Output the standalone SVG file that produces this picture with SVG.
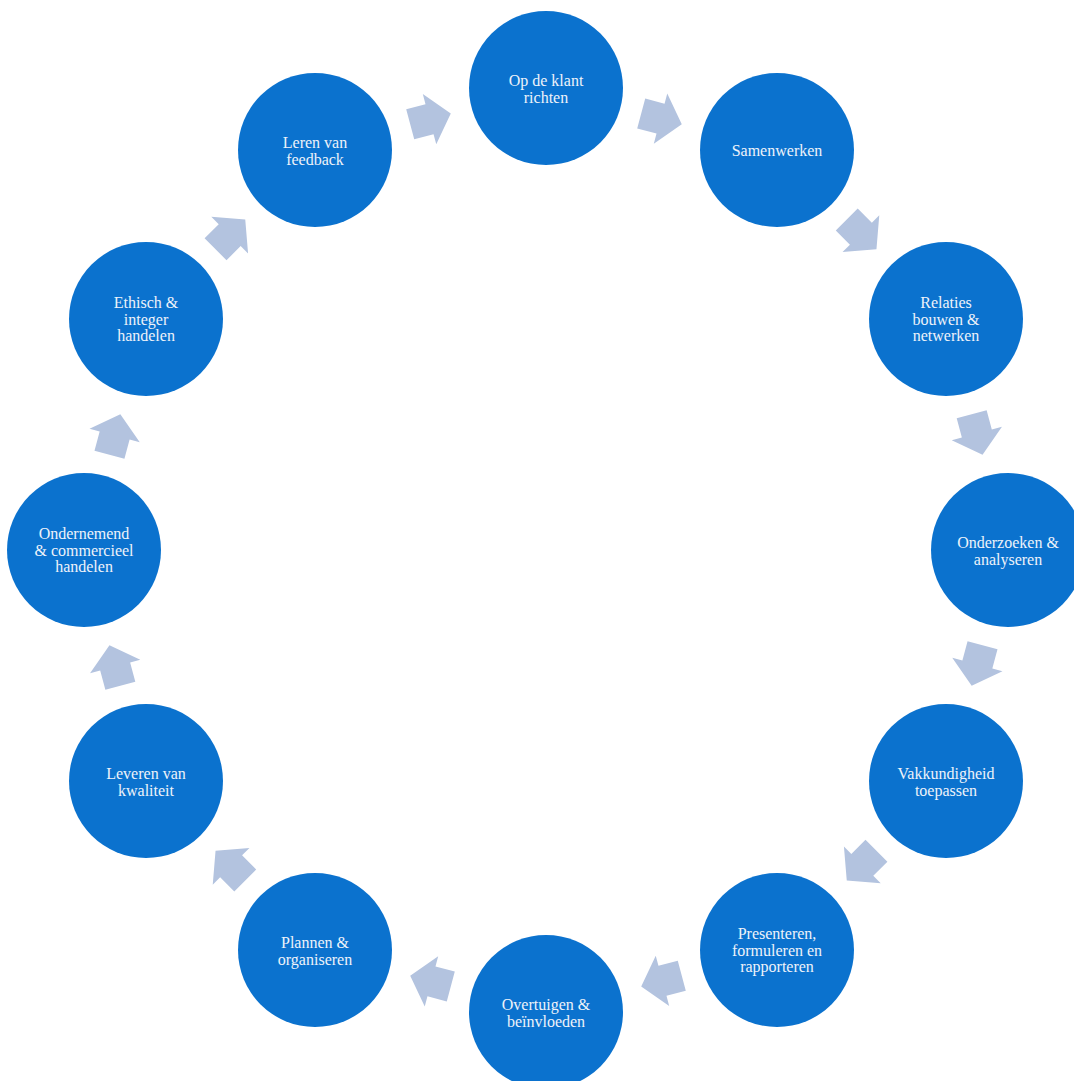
<svg xmlns="http://www.w3.org/2000/svg" xmlns:xlink="http://www.w3.org/1999/xlink" width="1074" height="1081" viewBox="0 0 1074 1081">
<style>
.node circle{fill:#0B72CE}
.node text{font-family:"Liberation Serif","Times New Roman",serif;font-size:16px;fill:#EEF3FA;text-anchor:middle}
.arrow{fill:#B3C3DF}
</style>
<defs>
<path id="arr" d="M-21,-15.5 L-1,-15.5 L-1,-26 L21,0 L-1,26 L-1,15.5 L-21,15.5 Z"/>
</defs>
<rect width="1074" height="1081" fill="#FFFFFF"/>
<g id="connectors">
<use xlink:href="#arr" class="arrow" transform="translate(661.5,118.9) rotate(15)"/>
<use xlink:href="#arr" class="arrow" transform="translate(861.6,234.4) rotate(45)"/>
<use xlink:href="#arr" class="arrow" transform="translate(977.1,434.5) rotate(75)"/>
<use xlink:href="#arr" class="arrow" transform="translate(977.1,665.5) rotate(105)"/>
<use xlink:href="#arr" class="arrow" transform="translate(861.6,865.6) rotate(135)"/>
<use xlink:href="#arr" class="arrow" transform="translate(661.5,981.1) rotate(165)"/>
<use xlink:href="#arr" class="arrow" transform="translate(430.5,981.1) rotate(195)"/>
<use xlink:href="#arr" class="arrow" transform="translate(230.4,865.6) rotate(225)"/>
<use xlink:href="#arr" class="arrow" transform="translate(114.9,665.5) rotate(255)"/>
<use xlink:href="#arr" class="arrow" transform="translate(114.9,434.5) rotate(285)"/>
<use xlink:href="#arr" class="arrow" transform="translate(230.4,234.4) rotate(315)"/>
<use xlink:href="#arr" class="arrow" transform="translate(430.5,118.9) rotate(345)"/>
</g>
<g id="n1" class="node"><circle cx="546" cy="88" r="77"/><text x="546" y="86">Op de klant</text><text x="546" y="102.5">richten</text></g>
<g id="n2" class="node"><circle cx="777" cy="150" r="77"/><text x="777" y="156">Samenwerken</text></g>
<g id="n3" class="node"><circle cx="946" cy="319" r="77"/><text x="946" y="308">Relaties</text><text x="946" y="324.5">bouwen &amp;</text><text x="946" y="341">netwerken</text></g>
<g id="n4" class="node"><circle cx="1008" cy="550" r="77"/><text x="1008" y="548">Onderzoeken &amp;</text><text x="1008" y="564.5">analyseren</text></g>
<g id="n5" class="node"><circle cx="946" cy="781" r="77"/><text x="946" y="779">Vakkundigheid</text><text x="946" y="795.5">toepassen</text></g>
<g id="n6" class="node"><circle cx="777" cy="950" r="77"/><text x="777" y="939">Presenteren,</text><text x="777" y="955.5">formuleren en</text><text x="777" y="972">rapporteren</text></g>
<g id="n7" class="node"><circle cx="546" cy="1012" r="77"/><text x="546" y="1010">Overtuigen &amp;</text><text x="546" y="1026.5">beïnvloeden</text></g>
<g id="n8" class="node"><circle cx="315" cy="950" r="77"/><text x="315" y="948">Plannen &amp;</text><text x="315" y="964.5">organiseren</text></g>
<g id="n9" class="node"><circle cx="146" cy="781" r="77"/><text x="146" y="779">Leveren van</text><text x="146" y="795.5">kwaliteit</text></g>
<g id="n10" class="node"><circle cx="84" cy="550" r="77"/><text x="84" y="539">Ondernemend</text><text x="84" y="555.5">&amp; commercieel</text><text x="84" y="572">handelen</text></g>
<g id="n11" class="node"><circle cx="146" cy="319" r="77"/><text x="146" y="308">Ethisch &amp;</text><text x="146" y="324.5">integer</text><text x="146" y="341">handelen</text></g>
<g id="n12" class="node"><circle cx="315" cy="150" r="77"/><text x="315" y="148">Leren van</text><text x="315" y="164.5">feedback</text></g>
</svg>
